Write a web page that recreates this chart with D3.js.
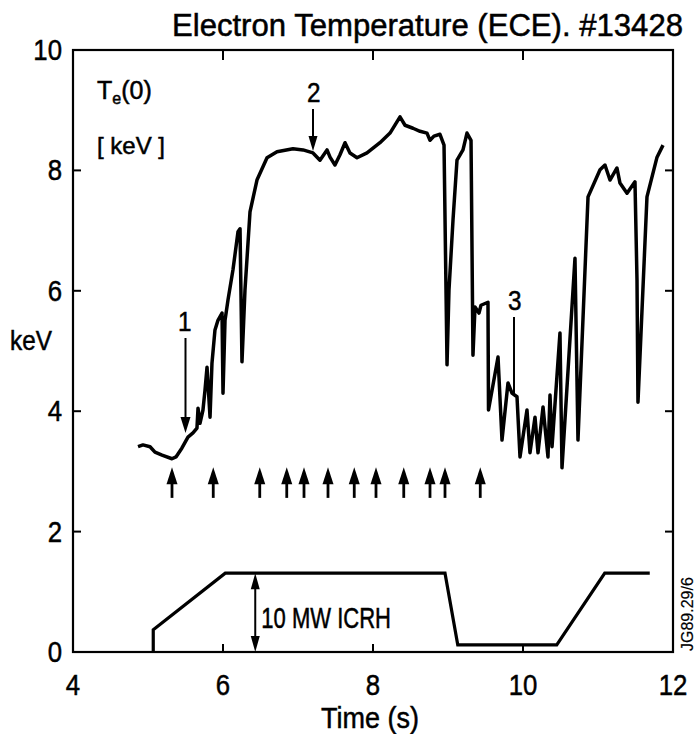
<!DOCTYPE html>
<html><head><meta charset="utf-8">
<script src="https://cdn.jsdelivr.net/npm/d3@7"></script>
<style>body{margin:0;background:#fff} text{stroke:#000;stroke-width:0.5px}</style>
</head><body>
<svg id="c" width="697" height="734"></svg>
<script>
// Te(0) trace (time s, keV)
const teTime = [4.867,4.933,5.027,5.093,5.187,5.32,5.373,5.453,5.533,5.60,5.653,5.667,5.693,5.733,5.76,5.787,5.827,5.853,5.893,5.933,5.987,6.0,6.027,6.067,6.133,6.20,6.227,6.253,6.293,6.36,6.453,6.587,6.72,6.933,7.067,7.20,7.293,7.387,7.427,7.493,7.56,7.627,7.693,7.787,7.92,8.093,8.227,8.36,8.427,8.533,8.627,8.72,8.76,8.813,8.893,8.947,8.987,9.013,9.067,9.12,9.2,9.253,9.307,9.333,9.36,9.413,9.44,9.533,9.54,9.667,9.72,9.80,9.853,9.92,9.96,10.053,10.093,10.16,10.2,10.267,10.333,10.36,10.387,10.493,10.52,10.693,10.733,10.867,11.027,11.093,11.16,11.253,11.293,11.387,11.493,11.52,11.533,11.653,11.787,11.867];
const teKeV = [3.41,3.44,3.41,3.32,3.27,3.21,3.24,3.39,3.57,3.64,3.72,4.05,3.80,4.02,4.35,4.73,3.90,4.80,5.35,5.51,5.63,4.30,5.51,5.85,6.35,6.98,7.03,4.82,6.01,7.31,7.84,8.21,8.31,8.36,8.34,8.29,8.17,8.34,8.22,8.09,8.26,8.46,8.29,8.21,8.29,8.46,8.62,8.89,8.75,8.70,8.65,8.62,8.50,8.57,8.60,8.42,4.77,6.01,7.18,8.17,8.34,8.62,8.50,4.93,5.73,5.63,5.76,5.81,4.02,4.90,3.52,4.47,4.30,4.24,3.24,4.02,3.31,3.90,3.31,4.07,3.24,4.27,3.41,5.30,3.06,6.54,3.52,7.56,8.01,8.09,7.84,8.04,7.79,7.62,7.81,6.18,4.15,7.56,8.22,8.42];
// ICRH power waveform (drawn on same axes, schematic)
const rfTime = [5.07,5.07,6.03,8.96,9.13,10.45,11.09,11.69];
const rfLevel = [0,0.37,1.31,1.31,0.12,0.12,1.31,1.31];
// times of upward arrows (events)
const eventTimes = [5.32,5.87,6.49,6.85,7.08,7.40,7.75,8.04,8.41,8.76,8.96,9.43];
const xTicks = [4,6,8,10,12];
const yTicks = [0,2,4,6,8,10];

const svg = d3.select("#c");
const FONT = "'Liberation Sans',Arial,sans-serif";
const x = d3.scaleLinear().domain([4,12]).range([73,673]);
const y = d3.scaleLinear().domain([0,10]).range([652,50]);

// condensed text helper
function ctext(g,tx,ty,str,size,anchor,sx){
  return g.append("text").attr("transform",`translate(${tx},${ty}) scale(${sx||0.86},1)`)
    .attr("text-anchor",anchor||"start").attr("font-family",FONT).attr("font-size",size).text(str);
}

// frame
svg.append("rect").attr("x",x(4)).attr("y",y(10)).attr("width",x(12)-x(4)).attr("height",y(0)-y(10))
  .attr("fill","none").attr("stroke","#000").attr("stroke-width",2.2);

// inward ticks
const tk = svg.append("g").attr("stroke","#000").attr("stroke-width",2);
xTicks.slice(1,-1).forEach(t=>{
  tk.append("line").attr("x1",x(t)).attr("x2",x(t)).attr("y1",y(10)).attr("y2",y(10)+10);
  tk.append("line").attr("x1",x(t)).attr("x2",x(t)).attr("y1",y(0)).attr("y2",y(0)-8);
});
yTicks.slice(1,-1).forEach(t=>{
  tk.append("line").attr("x1",x(4)).attr("x2",x(4)+8).attr("y1",y(t)).attr("y2",y(t));
  tk.append("line").attr("x1",x(12)).attr("x2",x(12)-8).attr("y1",y(t)).attr("y2",y(t));
});

// tick labels
const tg = svg.append("g");
xTicks.forEach(d=>ctext(tg,x(d),695,d,30,"middle"));
yTicks.forEach(d=>ctext(tg,62,y(d)+10,d,30,"end"));

// axis titles
ctext(svg,370,728,"Time (s)",30,"middle",0.9);
ctext(svg,10,350,"keV",27,"start",0.9);
svg.append("text").attr("x",172).attr("y",36).attr("font-family",FONT).attr("font-size",31)
  .attr("textLength",511).attr("lengthAdjust","spacingAndGlyphs").text("Electron Temperature (ECE).  #13428");

// Te(0) label
const tl = svg.append("text").attr("x",97).attr("y",99).attr("font-family",FONT).attr("font-size",25);
tl.append("tspan").text("T");
tl.append("tspan").attr("font-size",16).attr("dy",5).text("e");
tl.append("tspan").attr("dy",-5).text("(0)");
svg.append("text").attr("x",97).attr("y",154).attr("font-family",FONT).attr("font-size",24).text("[ keV ]");

// Te trace
const line = d3.line().x((d,i)=>x(teTime[i])).y((d,i)=>y(teKeV[i]));
svg.append("path").attr("d",line(teKeV)).attr("fill","none").attr("stroke","#000")
  .attr("stroke-width",3.5).attr("stroke-linejoin","round");

// RF waveform
const rline = d3.line().x((d,i)=>x(rfTime[i])).y((d,i)=>y(rfLevel[i]));
svg.append("path").attr("d",rline(rfLevel)).attr("fill","none").attr("stroke","#000").attr("stroke-width",3.2);

// arrow helper
function arrowHead(g,px,py,dir,w,h){ // dir: -1 up, +1 down; (px,py) = tip
  g.append("path").attr("d",`M${px},${py} L${px-w/2},${py-dir*h} L${px+w/2},${py-dir*h} Z`).attr("fill","#000");
}
const ag = svg.append("g");
// event arrows
eventTimes.forEach(t=>{
  ag.append("line").attr("x1",x(t)).attr("x2",x(t)).attr("y1",y(3.07)+6).attr("y2",y(2.56))
    .attr("stroke","#000").attr("stroke-width",2.8);
  arrowHead(ag,x(t),y(3.07),-1,11,17);
});
// double arrow 10 MW
const dx = x(6.43);
ag.append("line").attr("x1",dx).attr("x2",dx).attr("y1",y(1.31)+8).attr("y2",y(0)-8).attr("stroke","#000").attr("stroke-width",2);
arrowHead(ag,dx,y(1.31),-1,9,16);
arrowHead(ag,dx,y(0),1,9,16);
ctext(svg,dx+6,y(0.43)+2,"10 MW ICRH",29,"start",0.76);

// annotation 1
ctext(ag,x(5.49),331,"1",27,"middle",0.9);
ag.append("line").attr("x1",x(5.5)).attr("x2",x(5.5)).attr("y1",338).attr("y2",420).attr("stroke","#000").attr("stroke-width",2);
arrowHead(ag,x(5.5),433,1,10,16);
// annotation 2
ctext(ag,x(7.21),102,"2",27,"middle",0.9);
ag.append("line").attr("x1",x(7.2)).attr("x2",x(7.2)).attr("y1",109).attr("y2",140).attr("stroke","#000").attr("stroke-width",2);
arrowHead(ag,x(7.2),151,1,9,15);
// annotation 3
ctext(ag,x(9.89),310,"3",27,"middle",0.9);
ag.append("line").attr("x1",x(9.88)).attr("x2",x(9.88)).attr("y1",317).attr("y2",394).attr("stroke","#000").attr("stroke-width",2);

// reference code
svg.append("text").attr("transform","translate(693,651) rotate(-90)").attr("font-family",FONT)
  .attr("font-size",16).style("stroke-width","0.2px").text("JG89.29/6");
</script>
</body></html>
